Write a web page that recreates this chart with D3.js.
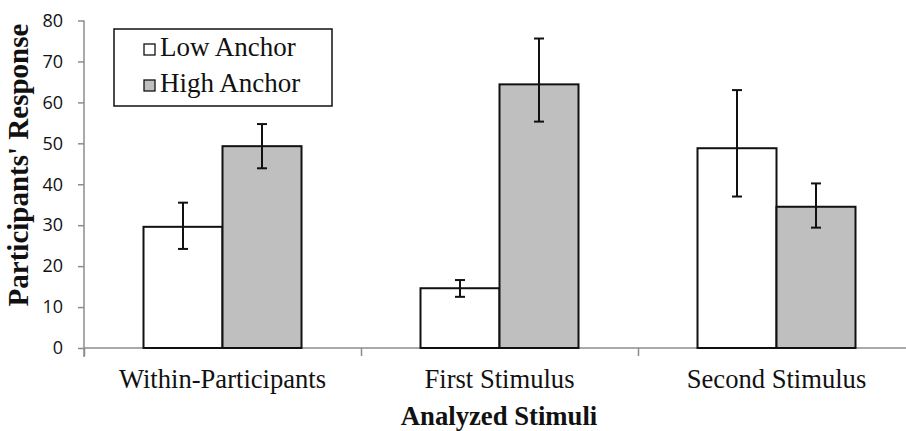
<!DOCTYPE html>
<html>
<head>
<meta charset="utf-8">
<script src="https://cdn.jsdelivr.net/npm/d3@7"></script>
<style>
  body { margin: 0; background: #fff; }
  svg { display: block; }
</style>
</head>
<body>
<div id="chart"></div>
<script>
// data
const categories = ['Within-Participants', 'First Stimulus', 'Second Stimulus'];
const seriesNames = ['Low Anchor', 'High Anchor'];
const lowValues = [29.6, 14.6, 48.8];
const highValues = [49.3, 64.4, 34.5];
const lowErrUp = [35.5, 16.6, 63.0];
const lowErrDown = [24.2, 12.5, 37.0];
const highErrUp = [54.7, 75.6, 40.2];
const highErrDown = [43.9, 55.3, 29.4];
const yTicks = [0, 10, 20, 30, 40, 50, 60, 70, 80];

const W = 906, H = 431;
const margin = { top: 20.5, left: 84, bottom: 83 };
const plotRight = 915;
const height = H - margin.top - margin.bottom;

const fills = ['#ffffff', '#bfbfbf'];
const serif = '"Liberation Serif", "Times New Roman", serif';

const svg = d3.select('#chart').append('svg')
  .attr('width', W)
  .attr('height', H);

const x = d3.scaleBand()
  .domain(categories)
  .range([margin.left, plotRight])
  .padding(0);

const xs = d3.scaleBand()
  .domain(seriesNames)
  .range([59.5, x.bandwidth() - 59.5])
  .padding(0);

const y = d3.scaleLinear()
  .domain([0, 80])
  .range([margin.top + height, margin.top]);

const rows = categories.map((c, i) => ({
  cat: c,
  vals: [
    { s: seriesNames[0], v: lowValues[i], up: lowErrUp[i], down: lowErrDown[i] },
    { s: seriesNames[1], v: highValues[i], up: highErrUp[i], down: highErrDown[i] }
  ]
}));

// axes
const axisColor = '#8c8c8c';

const yAxis = svg.append('g')
  .attr('transform', `translate(${margin.left},0)`)
  .call(d3.axisLeft(y).tickValues(yTicks).tickSize(6).tickPadding(15));
yAxis.select('.domain').attr('d', `M0,${y(80)}V${y(0) + 9}`);
yAxis.selectAll('line').attr('stroke', axisColor).attr('stroke-width', 1.5);
yAxis.select('.domain').attr('stroke', axisColor).attr('stroke-width', 1.5);
yAxis.selectAll('text')
  .style('font-family', '"Open Sans", sans-serif')
  .style('font-size', '18px')
  .attr('fill', '#111');

const xEdges = d3.scaleLinear()
  .domain([0, categories.length])
  .range([margin.left, plotRight]);

const xAxis = svg.append('g')
  .attr('transform', `translate(0,${y(0)})`)
  .call(d3.axisBottom(xEdges).tickValues(d3.range(categories.length + 1)).tickSize(8).tickFormat(''));
xAxis.selectAll('line').attr('stroke', axisColor).attr('stroke-width', 1.5);
xAxis.select('.domain').attr('stroke', axisColor).attr('stroke-width', 1.5)
  .attr('d', `M${margin.left},0H${plotRight}`);

// bars
const groups = svg.selectAll('.grp')
  .data(rows)
  .enter().append('g')
  .attr('class', 'grp')
  .attr('transform', d => `translate(${x(d.cat)},0)`);

groups.selectAll('rect')
  .data(d => d.vals)
  .enter().append('rect')
  .attr('x', d => xs(d.s))
  .attr('y', d => y(d.v))
  .attr('width', xs.bandwidth())
  .attr('height', d => y(0) - y(d.v))
  .attr('fill', (d, i) => fills[i])
  .attr('stroke', '#111')
  .attr('stroke-width', 2);

// error bars
const err = groups.selectAll('.err')
  .data(d => d.vals)
  .enter().append('g')
  .attr('class', 'err')
  .attr('stroke', '#111')
  .attr('stroke-width', 2);

const cx = d => xs(d.s) + xs.bandwidth() / 2;
err.append('line')
  .attr('x1', cx).attr('x2', cx)
  .attr('y1', d => y(d.up))
  .attr('y2', d => y(d.down));
err.append('line')
  .attr('x1', d => cx(d) - 5).attr('x2', d => cx(d) + 5)
  .attr('y1', d => y(d.up)).attr('y2', d => y(d.up));
err.append('line')
  .attr('x1', d => cx(d) - 5).attr('x2', d => cx(d) + 5)
  .attr('y1', d => y(d.down)).attr('y2', d => y(d.down));

// category labels
svg.selectAll('.cat-label')
  .data(categories)
  .enter().append('text')
  .attr('class', 'cat-label')
  .attr('x', d => x(d) + x.bandwidth() / 2)
  .attr('y', 388)
  .attr('text-anchor', 'middle')
  .style('font-family', serif)
  .style('font-size', '26.6px')
  .attr('fill', '#111')
  .text(d => d);

// axis titles
svg.append('text')
  .attr('x', 499)
  .attr('y', 425)
  .attr('text-anchor', 'middle')
  .style('font-family', serif)
  .style('font-size', '26.7px')
  .style('font-weight', 'bold')
  .attr('fill', '#111')
  .text('Analyzed Stimuli');

svg.append('text')
  .attr('transform', 'translate(28,165) rotate(-90)')
  .attr('text-anchor', 'middle')
  .style('font-family', serif)
  .style('font-size', '29px')
  .style('font-weight', 'bold')
  .attr('fill', '#111')
  .text("Participants' Response");

// legend
const legend = svg.append('g').attr('transform', 'translate(114,29)');
legend.append('rect')
  .attr('width', 218)
  .attr('height', 77)
  .attr('fill', '#fff')
  .attr('stroke', '#111')
  .attr('stroke-width', 1.5);

const li = legend.selectAll('.li')
  .data(seriesNames)
  .enter().append('g')
  .attr('class', 'li')
  .attr('transform', (d, i) => `translate(0,${i * 36})`);
li.append('rect')
  .attr('x', 30)
  .attr('y', 15)
  .attr('width', 11)
  .attr('height', 11)
  .attr('fill', (d, i) => fills[i])
  .attr('stroke', '#111')
  .attr('stroke-width', 1.3);
li.append('text')
  .attr('x', 46)
  .attr('y', 27)
  .style('font-family', serif)
  .style('font-size', '27px')
  .attr('fill', '#111')
  .text(d => d);
</script>
</body>
</html>
